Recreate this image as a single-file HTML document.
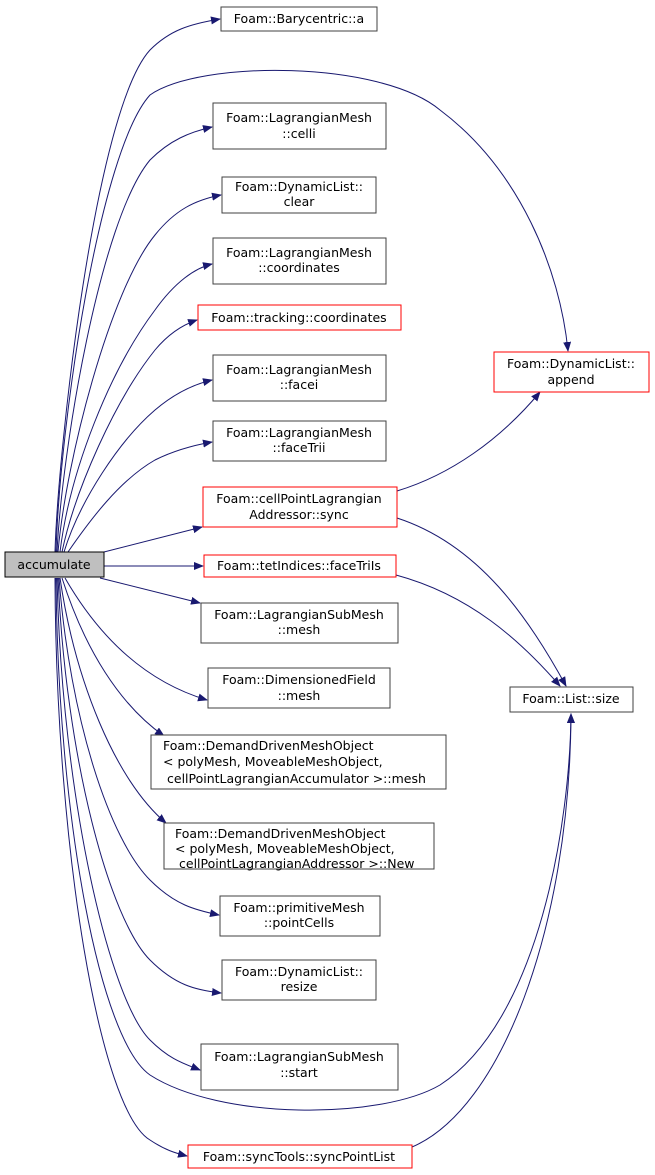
<!DOCTYPE html>
<html><head><meta charset="utf-8"><style>
html,body{margin:0;padding:0;background:#fff;}
svg{display:block}
text{font-family:"DejaVu Sans","Liberation Sans",sans-serif;font-size:12.5px;fill:#000;text-anchor:middle}
.b{fill:#fff;stroke:#404040;stroke-width:1}
.r{fill:#fff;stroke:#ff0000;stroke-width:1}
.e{fill:none;stroke:#191970;stroke-width:1}
</style></head><body>
<svg width="655" height="1175" viewBox="0 0 655 1175" xmlns="http://www.w3.org/2000/svg">
<defs><marker id="m" markerWidth="10" markerHeight="8" refX="9" refY="4" orient="auto" markerUnits="userSpaceOnUse"><path d="M0,0 L10,4 L0,8 z" fill="#191970"/></marker></defs>
<g class="e" marker-end="url(#m)">
<path d="M55,552 C58,450 95,110 150,50 C170,30 190,24 220,19"/>
<path d="M56,552 C60,420 100,150 150,95 C200,60 380,60 440,110 C520,170 560,270 568,351"/>
<path d="M57,552 C62,450 100,220 150,160 C170,140 190,132 212,127"/>
<path d="M58,552 C66,460 110,290 155,235 C175,210 195,200 221,195"/>
<path d="M60,552 C70,470 110,370 155,310 C175,282 195,268 212,264"/>
<path d="M62,552 C75,490 115,400 155,350 C170,332 185,324 197,320"/>
<path d="M64,552 C80,500 120,440 155,410 C175,393 195,384 212,380"/>
<path d="M68,552 C90,520 120,480 155,460 C175,450 195,445 212,442"/>
<path d="M100,553 L202,527"/>
<path d="M104,566 L203,566"/>
<path d="M100,578 L200,603"/>
<path d="M65,578 C95,630 140,680 207,700"/>
<path d="M62,578 C85,650 120,705 164,736"/>
<path d="M60,578 C75,680 115,780 166,823"/>
<path d="M59,578 C70,720 110,840 150,880 C175,905 195,910 219,915"/>
<path d="M58,578 C66,760 110,920 150,960 C175,985 195,990 221,993"/>
<path d="M57,578 C62,800 110,1000 150,1040 C170,1060 185,1064 200,1070"/>
<path d="M56,578 C58,820 100,1040 150,1075 C220,1120 380,1120 440,1085 C540,1020 570,820 571,714"/>
<path d="M55,578 C56,850 100,1110 150,1140 C165,1150 175,1153 187,1156"/>
<path d="M412,1147 C500,1110 570,930 571,714"/>
<path d="M397,491 C450,475 500,440 540,392"/>
<path d="M397,518 C480,545 530,620 566,686"/>
<path d="M396,575 C470,595 520,640 560,686"/>
</g>
<rect x="5" y="552" width="99" height="25" fill="#bfbfbf" stroke="#000"/><text x="54" y="569">accumulate</text>
<rect class="b" x="221" y="7" width="156" height="24"/><text x="299" y="23">Foam::Barycentric::a</text>
<rect class="b" x="213" y="103" width="173" height="46"/><text x="299" y="122">Foam::LagrangianMesh</text><text x="299" y="138">::celli</text>
<rect class="b" x="222" y="177" width="154" height="36"/><text x="299" y="191">Foam::DynamicList::</text><text x="299" y="206">clear</text>
<rect class="b" x="213" y="238" width="173" height="46"/><text x="299" y="257">Foam::LagrangianMesh</text><text x="299" y="272">::coordinates</text>
<rect class="r" x="198" y="305" width="203" height="25"/><text x="299" y="322">Foam::tracking::coordinates</text>
<rect class="b" x="213" y="355" width="173" height="46"/><text x="299" y="374">Foam::LagrangianMesh</text><text x="299" y="389">::facei</text>
<rect class="b" x="213" y="421" width="173" height="40"/><text x="299" y="437">Foam::LagrangianMesh</text><text x="299" y="452">::faceTrii</text>
<rect class="r" x="203" y="487" width="194" height="40"/><text x="299" y="503">Foam::cellPointLagrangian</text><text x="299" y="519">Addressor::sync</text>
<rect class="r" x="204" y="555" width="192" height="22"/><text x="299" y="570">Foam::tetIndices::faceTriIs</text>
<rect class="b" x="201" y="603" width="197" height="40"/><text x="299" y="619">Foam::LagrangianSubMesh</text><text x="299" y="634">::mesh</text>
<rect class="b" x="208" y="668" width="182" height="40"/><text x="299" y="684">Foam::DimensionedField</text><text x="299" y="700">::mesh</text>
<rect class="b" x="151" y="735" width="295" height="54"/><text x="163" y="750" style="text-anchor:start">Foam::DemandDrivenMeshObject</text><text x="163" y="766" style="text-anchor:start">&lt; polyMesh, MoveableMeshObject,</text><text x="167" y="783" style="text-anchor:start">cellPointLagrangianAccumulator &gt;::mesh</text>
<rect class="b" x="164" y="823" width="270" height="46"/><text x="175" y="838" style="text-anchor:start">Foam::DemandDrivenMeshObject</text><text x="175" y="853" style="text-anchor:start">&lt; polyMesh, MoveableMeshObject,</text><text x="179" y="868" style="text-anchor:start">cellPointLagrangianAddressor &gt;::New</text>
<rect class="b" x="220" y="896" width="160" height="40"/><text x="299" y="912">Foam::primitiveMesh</text><text x="299" y="927">::pointCells</text>
<rect class="b" x="222" y="960" width="154" height="40"/><text x="299" y="976">Foam::DynamicList::</text><text x="299" y="991">resize</text>
<rect class="b" x="201" y="1044" width="197" height="46"/><text x="299" y="1061">Foam::LagrangianSubMesh</text><text x="299" y="1077">::start</text>
<rect class="r" x="188" y="1145" width="224" height="23"/><text x="299" y="1161">Foam::syncTools::syncPointList</text>
<rect class="r" x="494" y="352" width="155" height="40"/><text x="571" y="368">Foam::DynamicList::</text><text x="571" y="384">append</text>
<rect class="b" x="510" y="687" width="123" height="25"/><text x="571" y="703">Foam::List::size</text>
</svg>
</body></html>
